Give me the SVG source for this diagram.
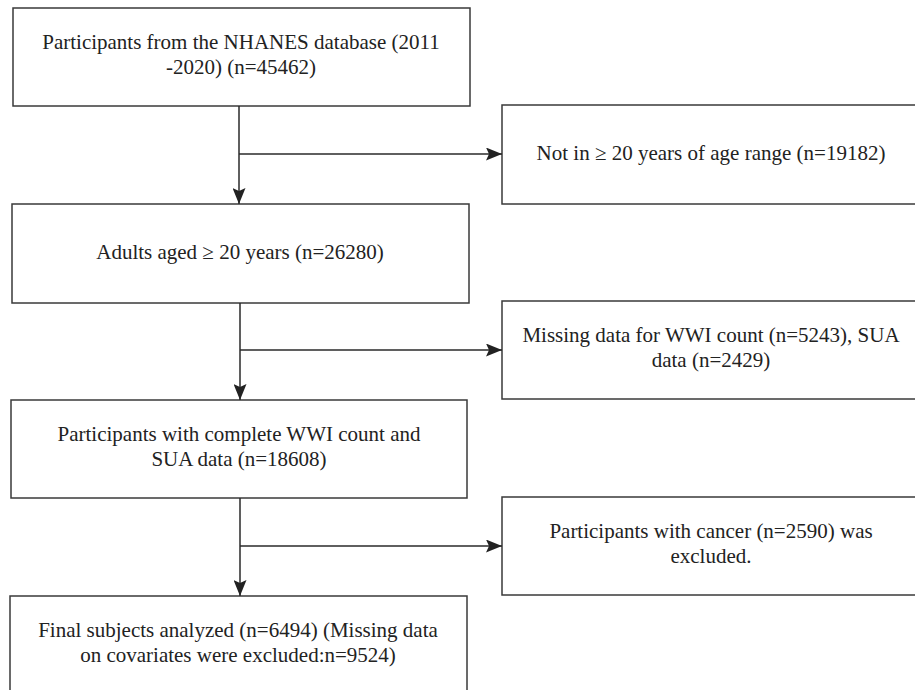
<svg xmlns="http://www.w3.org/2000/svg" width="915" height="690" viewBox="0 0 915 690">
<style>
.box{fill:#fff;stroke:#3a3a3a;stroke-width:1.5}
.t{font-family:"Liberation Serif","Times New Roman",serif;font-size:21px;fill:#222;text-anchor:middle}
.c{fill:none;stroke:#2a2a2a;stroke-width:1.5}
</style>
<defs>
<marker id="ahv" viewBox="0 0 16 13" refX="16" refY="6.5" markerWidth="16" markerHeight="13" markerUnits="userSpaceOnUse" orient="auto">
<path d="M0,0 L16,6.5 L0,13 L3,6.5 Z" fill="#222"/>
</marker>
</defs>
<rect width="915" height="690" fill="#fff"/>
<g id="n1"><rect class="box" x="13" y="8" width="457" height="98"/>
<text class="t" x="241" y="49">Participants from the NHANES database (2011</text>
<text class="t" x="241" y="74">-2020) (n=45462)</text></g>
<g id="n2"><rect class="box" x="12" y="204" width="457" height="99"/>
<text class="t" x="240" y="259">Adults aged ≥ 20 years (n=26280)</text></g>
<g id="n3"><rect class="box" x="11" y="400" width="456" height="98"/>
<text class="t" x="239" y="441">Participants with complete WWI count and</text>
<text class="t" x="239" y="466">SUA data (n=18608)</text></g>
<g id="n4"><rect class="box" x="10" y="596" width="457" height="110"/>
<text class="t" x="238" y="637">Final subjects analyzed (n=6494) (Missing data</text>
<text class="t" x="238" y="662">on covariates were excluded:n=9524)</text></g>
<g id="r1"><rect class="box" x="502" y="105" width="430" height="99"/>
<text class="t" x="711" y="160">Not in ≥ 20 years of age range (n=19182)</text></g>
<g id="r2"><rect class="box" x="502" y="301" width="430" height="98"/>
<text class="t" x="711" y="342">Missing data for WWI count (n=5243), SUA</text>
<text class="t" x="711" y="367">data (n=2429)</text></g>
<g id="r3"><rect class="box" x="502" y="497" width="430" height="98"/>
<text class="t" x="711" y="538">Participants with cancer (n=2590) was</text>
<text class="t" x="711" y="563">excluded.</text></g>
<g id="connectors">
<line class="c" x1="239" y1="106" x2="239" y2="204" marker-end="url(#ahv)"/>
<line class="c" x1="239" y1="154" x2="502" y2="154" marker-end="url(#ahv)"/>
<line class="c" x1="240" y1="303" x2="240" y2="400" marker-end="url(#ahv)"/>
<line class="c" x1="240" y1="350" x2="502" y2="350" marker-end="url(#ahv)"/>
<line class="c" x1="240" y1="498" x2="240" y2="596" marker-end="url(#ahv)"/>
<line class="c" x1="240" y1="546" x2="502" y2="546" marker-end="url(#ahv)"/>
</g>
</svg>
